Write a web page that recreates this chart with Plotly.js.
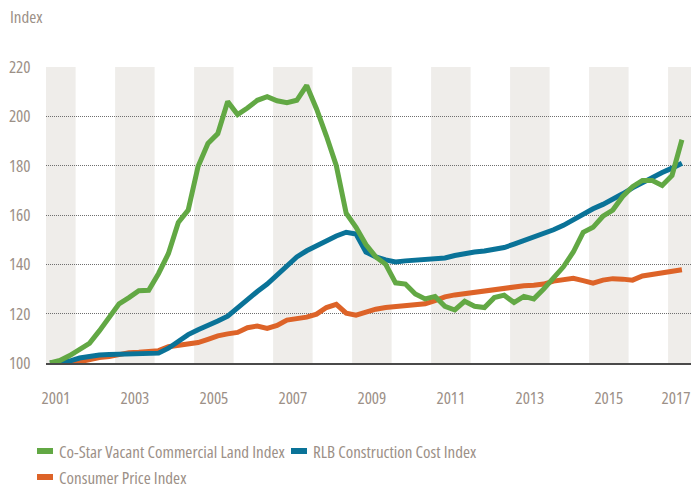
<!DOCTYPE html>
<html>
<head>
<meta charset="utf-8">
<script src="https://cdn.plot.ly/plotly-3.0.1.min.js"></script>
<style>
html,body{margin:0;padding:0;background:#fff;}
#chart{width:691px;height:489px;}
svg text, text{font-stretch:condensed !important;}
</style>
</head>
<body>
<div id="chart"></div>
<script>
// Quarterly observations, 2001 Q1 .. 2017 Q1
var startYear = 2001;
var nQuarters = 65;

var seriesNames = ["Co-Star Vacant Commercial Land Index", "RLB Construction Cost Index", "Consumer Price Index"];
var seriesColors = ["#62a844", "#0a7398", "#dd6328"];

var coStar = [100, 101, 103, 105.5, 108, 113, 118.5, 124, 126.5, 129.3, 129.5, 136.3, 144.4, 157, 162, 179.7,
  189, 193, 206, 200.7, 203.4, 206.5, 208, 206.3, 205.5, 206.5, 212.5, 203, 192, 180, 160.7, 155,
  148, 143, 140, 132.5, 132, 128, 126, 127, 123, 121.5, 125, 123, 122.5, 126.5, 127.5, 124.5,
  127, 126, 130, 134.5, 139, 145, 153, 155, 159.5, 162, 167.5, 171.5, 174, 174, 172, 176, 190.5];

var rlb = [100, 100.3, 100.8, 102, 102.8, 103.2, 103.4, 103.5, 103.8, 103.8, 104, 104, 106, 109, 111.5, 113.5,
  115, 117, 119, 122.5, 125.5, 129, 132, 135.5, 139, 143, 145.5, 147.5, 150, 151.5, 153, 152.3,
  145, 143, 141.8, 141, 141.4, 141.6, 141.7, 142, 142.6, 143.6, 144.5, 145, 145.4, 145.9, 146.8, 148.2,
  149.6, 151, 152.5, 154, 155.8, 158, 160.5, 162.5, 164.3, 166.3, 168.6, 171, 173.2, 175.4, 177.2, 179, 181];

var cpi = [100, 99.9, 99.7, 100.5, 101.6, 102.2, 102.6, 103.6, 104.2, 104.4, 104.5, 105, 106.6, 107, 107.5, 108.3,
  109.6, 111, 111.8, 112.4, 114.3, 115, 114, 115.2, 117.4, 117.9, 118.6, 119.8, 122.5, 123.8, 120.2, 119.4,
  120.8, 121.8, 122.5, 123, 123.3, 123.5, 124, 125.3, 126.8, 127.6, 128.1, 128.8, 129.6, 130, 130.4, 130.8,
  131.3, 131.5, 132, 133.2, 134, 134.3, 133.4, 132.4, 133.6, 134.2, 134, 133.6, 135.3, 135.9, 136.2, 137, 137.8];

var yearLabels = ["2001", "2003", "2005", "2007", "2009", "2011", "2013", "2015", "2017"];
var yTicks = [100, 120, 140, 160, 180, 200, 220];

// quarter positions on a decimal-year axis
var xs = [];
for (var i = 0; i < nQuarters; i++) {
  var yr = startYear + Math.floor(i / 4);
  var q = i % 4;
  xs.push(yr + q * 0.25 + 0.35);
}

var xRange = [2001.25, 2017.58];
var fontFam = '"Open Sans", "Roboto Condensed", sans-serif';
var txtColor = '#9c9087';
var fs = 17;

var seriesVals = [coStar, rlb, cpi];
var data = seriesVals.map(function (vals, k) {
  return {
    x: xs, y: vals, type: 'scatter', mode: 'lines', name: seriesNames[k],
    line: {color: seriesColors[k], width: 5, shape: 'linear'},
    hoverinfo: 'skip', showlegend: false
  };
});
// draw order: CPI first, then RLB, Co-Star on top
data = [data[2], data[1], data[0]];

var shapes = [];
yearLabels.forEach(function (lab) {
  var y0 = parseInt(lab, 10);
  shapes.push({
    type: 'rect', xref: 'x', yref: 'paper', layer: 'below',
    x0: Math.max(y0, xRange[0]), x1: Math.min(y0 + 1, xRange[1]), y0: 0, y1: 1,
    fillcolor: '#efedea', line: {width: 0}
  });
});

// custom legend (plot area: left 46px, width 645px; bottom 363px, height 296px)
function px2x(p) { return (p - 46) / 645; }
function py2y(p) { return (363 - p) / 296; }
var legendSlots = [{sx: 37, row: 451}, {sx: 291, row: 451}, {sx: 37, row: 477}];
var annotations = [];
seriesNames.forEach(function (nm, k) {
  var s = legendSlots[k];
  shapes.push({
    type: 'rect', xref: 'paper', yref: 'paper',
    x0: px2x(s.sx), x1: px2x(s.sx + 16), y0: py2y(s.row - 3), y1: py2y(s.row + 3),
    fillcolor: seriesColors[k], line: {width: 0}
  });
  annotations.push({
    xref: 'paper', yref: 'paper', x: px2x(s.sx + 21), y: py2y(s.row),
    xanchor: 'left', yanchor: 'middle', showarrow: false, text: nm, align: 'left',
    borderpad: 0,
    font: {family: fontFam, size: fs, color: txtColor}
  });
});

var tickvals = yearLabels.map(function (lab) {
  var v = parseInt(lab, 10) + 0.5;
  return Math.min(v, xRange[1] - 0.38);
});

var layout = {
  width: 691, height: 489,
  margin: {l: 46, r: 0, t: 67, b: 126, pad: 0},
  paper_bgcolor: '#ffffff', plot_bgcolor: '#ffffff',
  font: {family: fontFam, size: fs, color: txtColor},
  title: {text: 'Index', x: 10 / 691, xanchor: 'left', xref: 'container', yref: 'container', y: 1 - 17 / 489, yanchor: 'middle',
    font: {family: fontFam, size: fs, color: txtColor}},
  showlegend: false,
  xaxis: {
    range: xRange, showgrid: false, zeroline: false,
    showline: true, linecolor: '#4a4a4a', linewidth: 2,
    tickmode: 'array', tickvals: tickvals, ticktext: yearLabels,
    ticks: 'outside', ticklen: 19, tickcolor: 'rgba(0,0,0,0)',
    ticklabeloverflow: 'allow',
    tickfont: {family: fontFam, size: fs, color: txtColor}, fixedrange: true
  },
  yaxis: {
    range: [100, 220], tickmode: 'array', tickvals: yTicks,
    showgrid: true, gridcolor: '#6f6f6f', gridwidth: 1, griddash: '1px,1px',
    zeroline: false, showline: false,
    ticks: 'outside', ticklen: 11, tickcolor: 'rgba(0,0,0,0)',
    tickfont: {family: fontFam, size: fs, color: txtColor}, fixedrange: true
  },
  shapes: shapes,
  annotations: annotations
};

Plotly.newPlot('chart', data, layout, {displayModeBar: false, staticPlot: true});
</script>
</body>
</html>
